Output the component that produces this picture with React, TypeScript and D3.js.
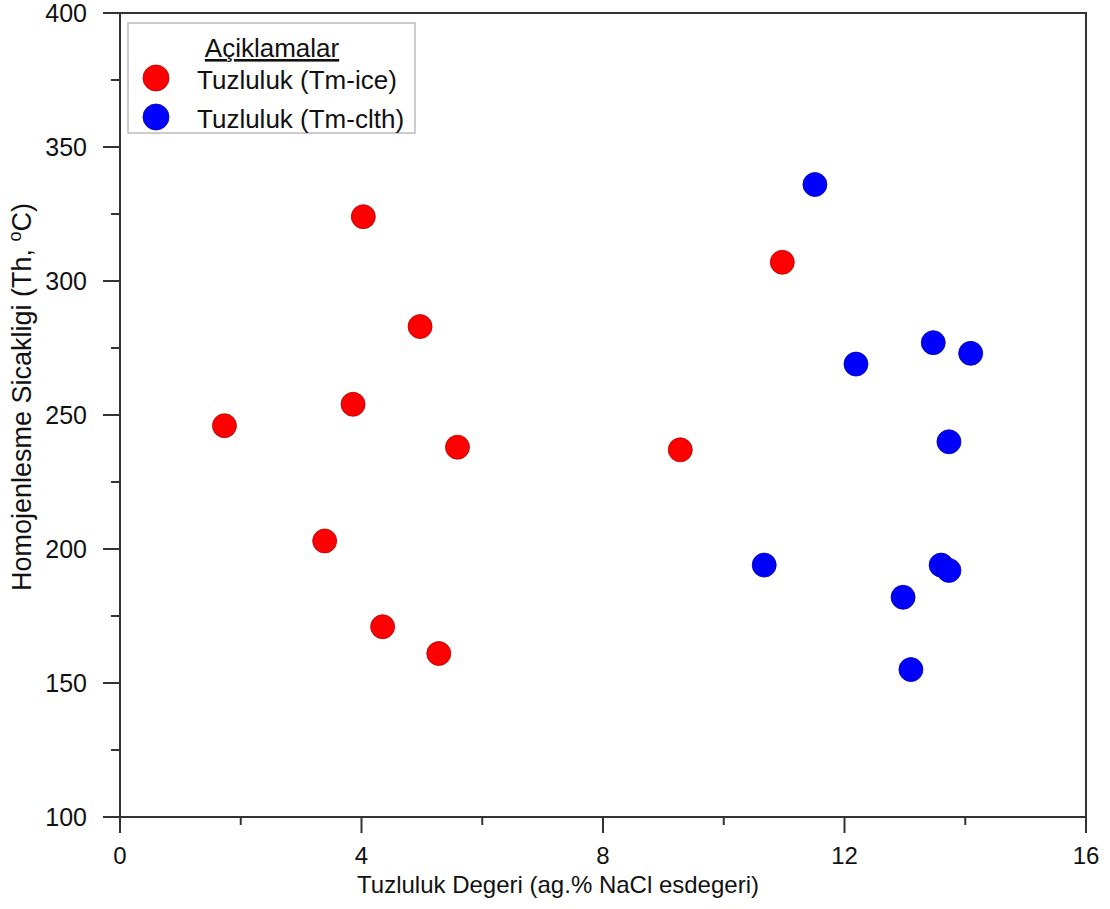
import React from "react";
import * as d3 from "d3";

const iceX = [1.73, 4.03, 4.97, 3.86, 5.59, 3.39, 4.35, 5.28, 9.28, 10.97];
const iceY = [246, 324, 283, 254, 238, 203, 171, 161, 237, 307];
const clthX = [11.51, 13.47, 14.09, 12.19, 13.73, 10.67, 13.6, 13.73, 12.97, 13.1];
const clthY = [336, 277, 273, 269, 240, 194, 194, 192, 182, 155];

const xMajor = [0, 4, 8, 12, 16];
const xMinor = [2, 6, 10, 14];
const yMajor = [100, 150, 200, 250, 300, 350, 400];
const yMinor = [125, 175, 225, 275, 325, 375];

const seriesNames = ["Tuzluluk (Tm-ice)", "Tuzluluk (Tm-clth)"];
const seriesColors = ["#ff0000", "#0000ff"];
const seriesStroke = ["#b00000", "#0000a0"];

export default function App() {
  const W = 1110, H = 909;
  const left = 120, right = 1086, top = 13, bottom = 817;
  const x = d3.scaleLinear().domain([0, 16]).range([left, right]);
  const y = d3.scaleLinear().domain([100, 400]).range([bottom, top]);
  const font = "Arial, 'Liberation Sans', sans-serif";
  const axisColor = "#333";

  const series = [
    iceX.map((v, i) => [v, iceY[i]]),
    clthX.map((v, i) => [v, clthY[i]]),
  ];

  return (
    <svg width={W} height={H} style={{ position: "absolute", left: 0, top: 0, background: "#fff" }} fontFamily={font}>
      {/* frame */}
      <rect x={left} y={top} width={right - left} height={bottom - top} fill="none" stroke={axisColor} strokeWidth={2} />
      {/* y ticks */}
      {yMajor.map((v) => (
        <g key={"ym" + v}>
          <line x1={left - 17} x2={left} y1={y(v)} y2={y(v)} stroke={axisColor} strokeWidth={2} />
          <text x={left - 33} y={y(v)} dy="0.35em" textAnchor="end" fontSize={25} fill="#111">{v}</text>
        </g>
      ))}
      {yMinor.map((v) => (
        <line key={"yn" + v} x1={left - 9} x2={left} y1={y(v)} y2={y(v)} stroke={axisColor} strokeWidth={2} />
      ))}
      {/* x ticks */}
      {xMajor.map((v) => (
        <g key={"xm" + v}>
          <line x1={x(v)} x2={x(v)} y1={bottom} y2={bottom + 16} stroke={axisColor} strokeWidth={2} />
          <text x={x(v)} y={864} textAnchor="middle" fontSize={24} fill="#111">{v}</text>
        </g>
      ))}
      {xMinor.map((v) => (
        <line key={"xn" + v} x1={x(v)} x2={x(v)} y1={bottom} y2={bottom + 8} stroke={axisColor} strokeWidth={2} />
      ))}
      {/* axis titles */}
      <text x={558} y={893} textAnchor="middle" fontSize={24} fill="#111">Tuzluluk Degeri (ag.% NaCl esdegeri)</text>
      <text transform={`translate(31, 397) rotate(-90)`} textAnchor="middle" fontSize={27} fill="#111">
        Homojenlesme Sicakligi (Th, <tspan fontSize={18} dy={-10}>o</tspan><tspan dy={10}>C)</tspan>
      </text>
      {/* points */}
      {series.map((pts, si) =>
        pts.map((p, i) => (
          <circle key={si + "-" + i} cx={x(p[0])} cy={y(p[1])} r={12} fill={seriesColors[si]} stroke={seriesStroke[si]} strokeWidth={0.8} />
        ))
      )}
      {/* legend */}
      <rect x={128} y={23} width={287} height={110} fill="#fff" stroke="#bbb" strokeWidth={1.5} />
      <text x={272} y={57} textAnchor="middle" fontSize={26} fill="#111" textDecoration="underline">Açiklamalar</text>
      {seriesNames.map((name, i) => (
        <g key={name}>
          <circle cx={156} cy={78 + i * 39} r={13} fill={seriesColors[i]} stroke={seriesStroke[i]} strokeWidth={0.8} />
          <text x={197} y={89 + i * 39} fontSize={26} fill="#111">{name}</text>
        </g>
      ))}
    </svg>
  );
}
